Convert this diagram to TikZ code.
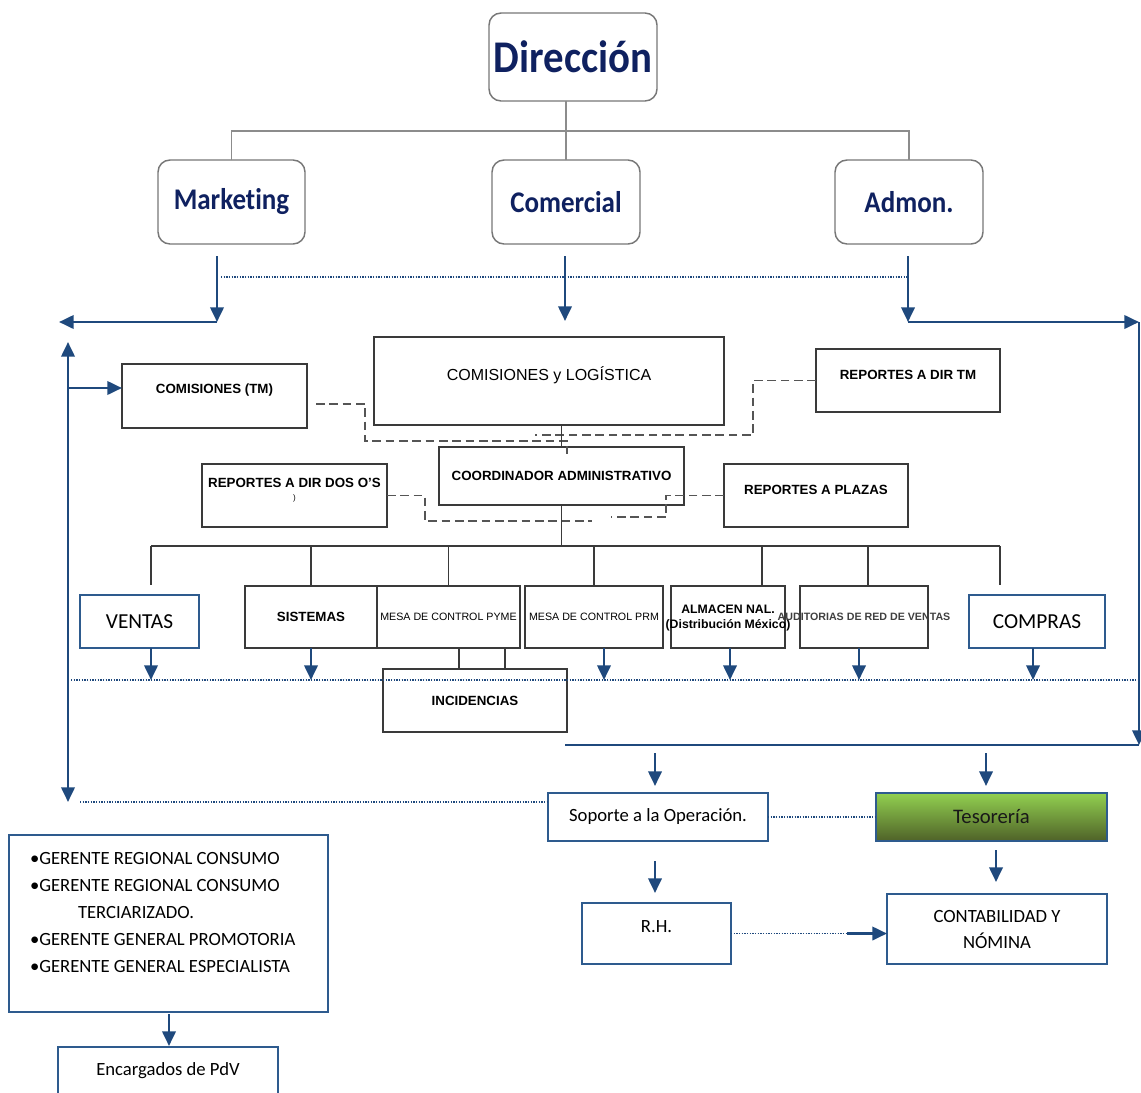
\documentclass[tikz,border=0pt]{standalone}
\usepackage{fontspec}
\setmainfont{Carlito}
\newfontfamily\arialf{Liberation Sans}
\newfontfamily\titlef[FakeStretch=0.9,Ligatures=NoCommon]{Carlito}
\usetikzlibrary{arrows.meta}
\definecolor{navy}{HTML}{0F2160}
\definecolor{flowblue}{HTML}{1F497D}
\definecolor{bluebox}{HTML}{2E5B8E}
\definecolor{boxline}{HTML}{3A3A3A}
\definecolor{dashc}{HTML}{555555}
\definecolor{greytree}{HTML}{8C8C8C}
\definecolor{greenhi}{HTML}{92D050}
\definecolor{greenlo}{HTML}{4F6228}
\begin{document}
\begin{tikzpicture}[x=0.75pt,y=-0.75pt,
  sz/.style 2 args={minimum width=#1*0.75pt, minimum height=#2*0.75pt},
  every node/.style={inner sep=0pt, outer sep=0pt},
  rbox/.style={draw=greytree!85!black, line width=1.1pt, rounded corners=9pt, fill=white, text=navy},
  kbox/.style={draw=boxline, line width=1.1pt, fill=white, align=center},
  bbox/.style={draw=bluebox, line width=1.4pt, fill=white, align=center},
  boldtxt/.style={font=\arialf\fontsize{10}{12}\selectfont\bfseries},
  smalltxt/.style={font=\arialf\fontsize{8}{10}\selectfont},
  flowline/.style={draw=flowblue, line width=2pt},
  arr/.style={flowline, -{Triangle[length=11pt,width=10pt]}},
  dotline/.style={draw=flowblue, line width=1.1pt, dash pattern=on 0.9pt off 1.1pt},
  dsh/.style={draw=dashc, line width=0.9pt, dash pattern=on 6.5pt off 3.5pt},
  tline/.style={draw=boxline, line width=1pt},
  tree/.style={draw=greytree, line width=1pt}]
\useasboundingbox (0,0) rectangle (1141,1092);

% ---- top level ----
\node[rbox, sz={168}{88}, font=\titlef\fontsize{34}{40}\selectfont\bfseries] (dir) at (573,57) {Dirección};
\node[rbox, sz={147}{84}, font=\titlef\fontsize{22.5}{27}\selectfont\bfseries] (mkt) at (231.5,202) {Marketing};
\node[rbox, sz={148}{84}, font=\titlef\fontsize{22.5}{27}\selectfont\bfseries] (com) at (566,202) {Comercial};
\node[rbox, sz={148}{84}, font=\titlef\fontsize{22.5}{27}\selectfont\bfseries] (adm) at (909,202) {Admon.};

\draw[tree] (com.north) -- (com.north |- dir.south);
\draw[tree] (mkt.north) -- ++(0,-29) -| (adm.north);

% ---- flows under the directors ----
\coordinate (mkA) at (217,256);
\coordinate (mkB) at (217,322);
\coordinate (mkL) at (59,322);
\coordinate (coA) at (565,256);
\coordinate (coB) at (565,321);
\coordinate (adA) at (908,256);
\coordinate (adB) at (908,322);
\coordinate (adR) at (1139,322);
\coordinate (adD) at (1139,745);
\coordinate (botL) at (565,745);
\coordinate (dtL) at (221,277);
\coordinate (dtR) at (907,277);

\draw[dotline] (dtL) -- (dtR);
\draw[arr] (mkA) -- (mkB);
\draw[arr] (mkB) -- (mkL);
\draw[arr] (coA) -- (coB);
\draw[arr] (adA) -- (adB);
\draw[arr] (adB) -- (adR);
\draw[arr] (adR) -- (adD);
\draw[flowline, line width=1.4pt] (adD) -- (botL);

% ---- left trunk ----
\coordinate (lvT) at (68,342);
\coordinate (lvB) at (68,802);
\coordinate (lvC) at (68,388);
\draw[flowline, {Triangle[length=11pt,width=10pt]}-{Triangle[length=11pt,width=10pt]}] (lvT) -- (lvB);

% ---- administrative block ----
\node[kbox, sz={185}{64}, label={[name=comtm-t, boldtxt, yshift=4.5pt]center:COMISIONES (TM)}] (comtm) at (214.5,396) {};
\node[kbox, sz={350}{88}, label={[name=cyl-t, font=\arialf\fontsize{12}{14}\selectfont, yshift=4.5pt]center:COMISIONES y LOGÍSTICA}] (cyl) at (549,381) {};
\node[kbox, sz={184}{63}, label={[name=rdtm-t, boldtxt, yshift=4pt]center:REPORTES A DIR TM}] (rdtm) at (908,380.5) {};
\node[kbox, sz={245}{58}, boldtxt] (coord) at (561.5,476) {COORDINADOR ADMINISTRATIVO};
\node[kbox, sz={185}{63},
  label={[name=rdos-t, boldtxt, yshift=9.4pt]center:REPORTES A DIR DOS O’S},
  label={[name=rdos-p, font=\arialf\fontsize{6}{7}\selectfont, yshift=-1.9pt]center:)}] (rdos) at (294.5,495.5) {};
\node[kbox, sz={184}{63}, label={[name=rpla-t, boldtxt, yshift=4pt]center:REPORTES A PLAZAS}] (rpla) at (816,495.5) {};

\draw[arr] (lvC) -- (lvC -| comtm.west);

% dashed report links
\coordinate (ds1) at (316,404);
\draw[dsh] (ds1) -- (365,404) -- (365,441) -- (567,441) -- (567,454);
\draw[dsh] (rdtm.west) -- (753,380.5) -- (753,435) -- (535,435);
\draw[dsh] (rdos.east) -- (425,495.5) -- (425,521) -- (592,521);
\draw[dsh] (rpla.west) -- (666,495.5) -- (666,517) -- (611,517);

\draw[tline] (cyl.south -| coord.north) -- (coord.north);

% ---- department row ----
\coordinate (busL) at (151,546);
\coordinate (busR) at (1000,546);
\node[bbox, sz={119}{53}, font=\fontsize{16}{19}\selectfont] (ventas) at (139.5,621.5) {VENTAS};
\node[kbox, sz={132}{62}, boldtxt] (sis) at (311,617) {SISTEMAS};
\node[kbox, sz={143}{62}, smalltxt] (pyme) at (448.5,617) {MESA DE CONTROL PYME};
\node[kbox, sz={138}{62}, smalltxt] (prm) at (594,617) {MESA DE CONTROL PRM};
\node[kbox, sz={114}{62},
  label={[name=alm-t, align=center, font=\arialf\fontsize{9.2}{11.5}\selectfont\bfseries, yshift=-0.8pt]center:ALMACEN NAL.\\(Distribución México)}] (alm) at (728,617) {};
\node[kbox, sz={128}{62},
  label={[name=aud-t, font=\arialf\fontsize{8}{10}\selectfont\bfseries, text=black!75]center:AUDITORIAS DE RED DE VENTAS}] (aud) at (864,617) {};
\node[bbox, sz={136}{53}, font=\fontsize{16}{19}\selectfont] (compras) at (1037,621.5) {COMPRAS};
\node[kbox, sz={184}{63}, boldtxt] (incid) at (475,700.5) {INCIDENCIAS};

\draw[tline] (coord.south) -- (coord.south |- busL);
\draw[tline] (busL) -- (busR);
\coordinate (vdrop) at (151,585);
\coordinate (cdrop) at (1000,585);
\coordinate (almx) at (762,546);
\coordinate (audx) at (868,546);
\draw[tline] (busL) -- (vdrop);
\draw[tline] (busR) -- (cdrop);
\draw[tline] (sis.north) -- (sis.north |- busL);
\draw[tline] (pyme.north) -- (pyme.north |- busL);
\draw[tline] (prm.north) -- (prm.north |- busL);
\draw[tline] (almx) -- (almx |- alm.north);
\draw[tline] (audx) -- (audx |- aud.north);

\coordinate (k1) at (459,660);
\coordinate (k2) at (505,660);
\draw[tline] (k1 |- pyme.south) -- (k1 |- incid.north);
\draw[tline] (k2 |- pyme.south) -- (k2 |- incid.north);

% arrows onto the dotted line
\coordinate (dmL) at (71,680);
\coordinate (dmR) at (1139,680);
\draw[dotline] (dmL) -- (dmR);
\coordinate (a1) at (151,680);
\coordinate (a2) at (311,680);
\coordinate (a3) at (604,680);
\coordinate (a4) at (730,680);
\coordinate (a5) at (859,680);
\coordinate (a6) at (1033,680);
\draw[arr] (a1 |- ventas.south) -- (a1);
\draw[arr] (a2 |- sis.south) -- (a2);
\draw[arr] (a3 |- prm.south) -- (a3);
\draw[arr] (a4 |- alm.south) -- (a4);
\draw[arr] (a5 |- aud.south) -- (a5);
\draw[arr] (a6 |- compras.south) -- (a6);

% ---- administration support ----
\node[bbox, sz={220}{48}, font=\fontsize{14}{17}\selectfont] (sop) at (658,817) {Soporte a la Operación.};
\node[draw=bluebox, line width=1.4pt, top color=greenhi, bottom color=greenlo, sz={231}{48}, font=\fontsize{15.5}{18}\selectfont, text=black!90] (tes) at (991.5,817) {Tesorería};
\node[bbox, sz={149}{61}, label={[name=rh-t, font=\fontsize{14}{17}\selectfont, yshift=5.3pt]center:R.H.}] (rh) at (656.5,933.5) {};
\node[bbox, sz={220}{70}, font=\fontsize{14}{19.5}\selectfont] (cont) at (997,929) {CONTABILIDAD Y\\NÓMINA};

\coordinate (s1) at (655,753);
\coordinate (s2) at (655,786);
\coordinate (t1) at (986,753);
\coordinate (t2) at (986,786);
\coordinate (s3) at (655,861);
\coordinate (s4) at (655,893);
\coordinate (t3) at (996,850);
\coordinate (t4) at (996,882);
\draw[arr] (s1) -- (s2);
\draw[arr] (t1) -- (t2);
\draw[arr] (s3) -- (s4);
\draw[arr] (t3) -- (t4);
\draw[dotline] (sop.east) -- (tes.west);
\coordinate (rhm) at (847,933.5);
\draw[dotline] (rh.east) -- (rhm);
\draw[arr] (rhm) -- (rhm -| cont.west);

\coordinate (dl) at (80,802);
\draw[dotline] (dl) -- (dl -| sop.west);

% ---- sales management ----
\node[bbox, sz={319}{177},
  label={[name=ger-t, anchor=north west, align=left, font=\fontsize{14}{20.25}\selectfont, xshift=15.75pt, yshift=-12.75pt]north west:{•GERENTE REGIONAL CONSUMO\\•GERENTE REGIONAL CONSUMO\\\hspace*{36pt}TERCIARIZADO.\\•GERENTE GENERAL PROMOTORIA\\•GERENTE GENERAL ESPECIALISTA}}] (ger) at (168.5,923.5) {};
\node[bbox, sz={220}{48}, font=\fontsize{14}{17}\selectfont] (enc) at (168,1071) {Encargados de PdV};
\coordinate (g1) at (169,1014);
\coordinate (g2) at (169,1046);
\draw[arr] (g1) -- (g2);
\end{tikzpicture}
\end{document}
